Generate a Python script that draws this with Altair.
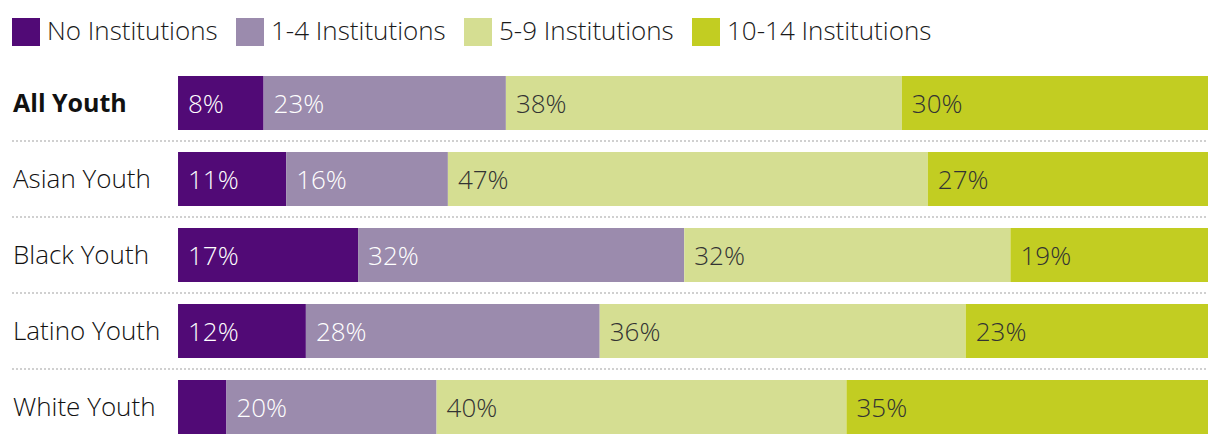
import altair as alt
import pandas as pd

groups = ["All Youth", "Asian Youth", "Black Youth", "Latino Youth", "White Youth"]
categories = ["No Institutions", "1-4 Institutions", "5-9 Institutions", "10-14 Institutions"]
colors = ["#510A76", "#9B8BAD", "#D5DE92", "#C2CD22"]

# bar lengths (share of each row)
values = {
    "All Youth":    [8.3, 23.5, 38.4, 29.7],
    "Asian Youth":  [10.5, 15.7, 46.6, 27.2],
    "Black Youth":  [17.5, 31.7, 31.7, 19.2],
    "Latino Youth": [12.4, 28.5, 35.5, 23.5],
    "White Youth":  [4.7, 20.4, 39.8, 35.1],
}
# printed labels
labels = {
    "All Youth":    ["8%", "23%", "38%", "30%"],
    "Asian Youth":  ["11%", "16%", "47%", "27%"],
    "Black Youth":  ["17%", "32%", "32%", "19%"],
    "Latino Youth": ["12%", "28%", "36%", "23%"],
    "White Youth":  ["", "20%", "40%", "35%"],
}

FONT = "Open Sans"
FS = 26
XMIN = -0.1612
W, H = 1196, 369

rows = []
for g in groups:
    for i, c in enumerate(categories):
        rows.append({"group": g, "category": c, "order": i,
                     "value": values[g][i], "label": labels[g][i]})
df = pd.DataFrame(rows)
gdf = pd.DataFrame({"group": groups, "bold": [g == "All Youth" for g in groups],
                    "xs": [XMIN] * len(groups), "xe": [1.0] * len(groups)})
sep = gdf.iloc[:-1]

xscale = alt.Scale(domain=[XMIN, 1], nice=False, zero=False)
yscale = alt.Scale(domain=groups, paddingInner=22 / 76, paddingOuter=11 / 152, align=1)

base = alt.Chart(df).transform_stack(
    stack="value", groupby=["group"], as_=["x0", "x1"], offset="normalize",
    sort=[alt.SortField("order", order="ascending")]
)

bars = base.mark_bar().encode(
    x=alt.X("x0:Q", scale=xscale, axis=None),
    x2="x1:Q",
    y=alt.Y("group:N", scale=yscale, axis=None),
    color=alt.Color(
        "category:N",
        scale=alt.Scale(domain=categories, range=colors),
        legend=alt.Legend(
            title=None, orient="none", legendX=0, legendY=-47,
            direction="horizontal", symbolType="square", symbolSize=784,
            symbolStrokeWidth=0, symbolOpacity=1,
            labelFont=FONT, labelFontSize=FS, labelFontWeight=300,
            labelColor="#1a1a1a",
            labelOffset=7, columnPadding=18, labelLimit=400,
        ),
    ),
)

seg_text = base.mark_text(
    align="left", baseline="middle", dx=10, dy=2, font=FONT, fontSize=FS,
    fontWeight=300,
).encode(
    x=alt.X("x0:Q", scale=xscale, axis=None),
    y=alt.Y("group:N", scale=yscale, axis=None),
    text="label:N",
    color=alt.condition("datum.order < 2", alt.value("#ffffff"), alt.value("#333333")),
)

group_bold = alt.Chart(gdf).transform_filter("datum.bold").mark_text(
    align="left", baseline="middle", dx=1, dy=1, font=FONT, fontSize=FS - 1,
    color="#111111", fontWeight="bold",
).encode(
    x=alt.X("xs:Q", scale=xscale, axis=None),
    y=alt.Y("group:N", scale=yscale, axis=None),
    text="group:N",
)
group_norm = alt.Chart(gdf).transform_filter("!datum.bold").mark_text(
    align="left", baseline="middle", dx=1, dy=1, font=FONT, fontSize=FS,
    color="#111111", fontWeight=300,
).encode(
    x=alt.X("xs:Q", scale=xscale, axis=None),
    y=alt.Y("group:N", scale=yscale, axis=None),
    text="group:N",
)

rules = alt.Chart(sep).mark_rule(
    color="#d0d0d0", strokeWidth=2, strokeDash=[2, 2], yOffset=38
).encode(
    x=alt.X("xs:Q", scale=xscale, axis=None),
    x2="xe:Q",
    y=alt.Y("group:N", scale=yscale, axis=None),
)

chart = alt.layer(rules, bars, seg_text, group_bold, group_norm).properties(
    width=W, height=H,
    autosize=alt.AutoSizeParams(type="none"),
    padding={"left": 4, "top": 57, "right": 0, "bottom": 0},
).configure(background="#ffffff", view=alt.ViewConfig(stroke=None))

chart.save("out.html", embed_options={"renderer": "svg", "actions": False})
